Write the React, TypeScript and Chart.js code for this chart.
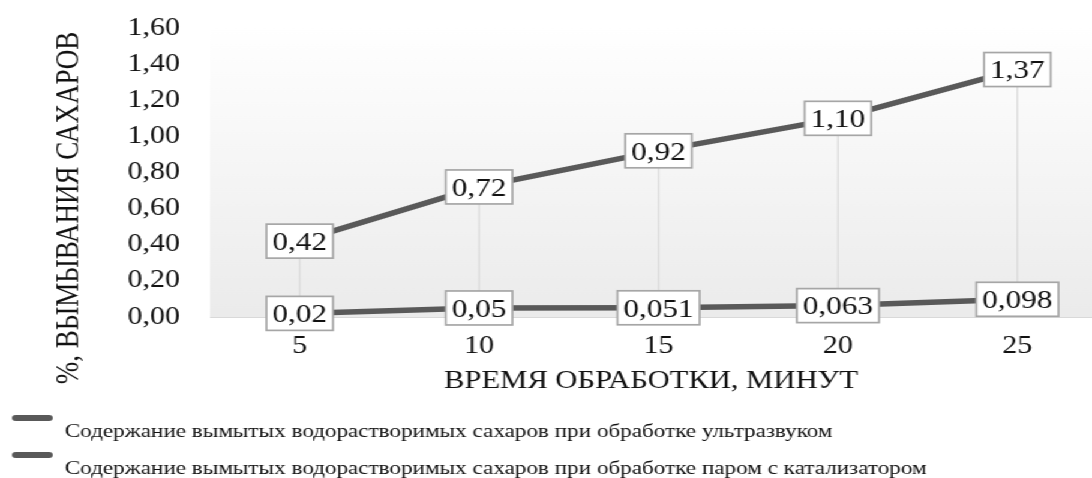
import React, { useEffect, useRef } from "react";
import { Chart, registerables } from "chart.js";

Chart.register(...registerables);

// ---- data ----
const minutes = [5, 10, 15, 20, 25];
const ultrasoundValues = [0.42, 0.72, 0.92, 1.1, 1.37];
const steamCatalystValues = [0.02, 0.05, 0.051, 0.063, 0.098];
const ultrasoundLabels = ["0,42", "0,72", "0,92", "1,10", "1,37"];
const steamCatalystLabels = ["0,02", "0,05", "0,051", "0,063", "0,098"];
const seriesNames = [
  "Содержание вымытых водорастворимых сахаров при обработке ультразвуком",
  "Содержание вымытых водорастворимых сахаров при обработке паром с катализатором",
];
const xAxisTitle = "ВРЕМЯ ОБРАБОТКИ, МИНУТ";
const yAxisTitle = "%, ВЫМЫВАНИЯ САХАРОВ";
const yMin = 0;
const yMax = 1.6;
const yStep = 0.2;
const xMin = 2.5;
const xMax = 27.08;

// ---- layout / style ----
const STRETCH = 1.2;
const W = Math.round(1092 / STRETCH);
const H = 478;
const FONT = '"Liberation Serif", "Times New Roman", serif';
const LINE_COLOR = "#595959";
const TEXT_COLOR = "#111111";

const plotBackground = {
  id: "plotBackground",
  beforeDraw(chart: any) {
    const { ctx, chartArea: a } = chart;
    const g = ctx.createLinearGradient(0, a.top, 0, a.bottom);
    g.addColorStop(0, "#ffffff");
    g.addColorStop(1, "#ebebeb");
    ctx.save();
    ctx.fillStyle = g;
    ctx.fillRect(a.left, a.top, a.right - a.left, a.bottom - a.top);
    ctx.restore();
  },
};

const highLowLines = {
  id: "highLowLines",
  beforeDatasetsDraw(chart: any) {
    const { ctx } = chart;
    const m0 = chart.getDatasetMeta(0);
    const m1 = chart.getDatasetMeta(1);
    ctx.save();
    ctx.strokeStyle = "#d9d9d9";
    ctx.lineWidth = 1.2;
    m0.data.forEach((p: any, i: number) => {
      const q = m1.data[i];
      if (!q) return;
      ctx.beginPath();
      ctx.moveTo(p.x, p.y);
      ctx.lineTo(q.x, q.y);
      ctx.stroke();
    });
    ctx.restore();
  },
};

const valueBoxes = {
  id: "valueBoxes",
  afterDatasetsDraw(chart: any) {
    const { ctx } = chart;
    ctx.save();
    ctx.font = `26px ${FONT}`;
    chart.data.datasets.forEach((ds: any, di: number) => {
      const meta = chart.getDatasetMeta(di);
      meta.data.forEach((pt: any, i: number) => {
        const text = ds.valueLabels[i];
        const w = ctx.measureText(text).width + 10;
        const h = 34;
        const x0 = pt.x - w / 2;
        const y0 = pt.y - h / 2;
        ctx.fillStyle = "#ffffff";
        ctx.fillRect(x0, y0, w, h);
        ctx.strokeStyle = "#a6a6a6";
        ctx.lineWidth = 1.7;
        ctx.strokeRect(x0, y0, w, h);
        ctx.fillStyle = TEXT_COLOR;
        ctx.textAlign = "center";
        ctx.textBaseline = "middle";
        ctx.fillText(text, pt.x, pt.y + 2);
      });
    });
    ctx.restore();
  },
};

const yTitlePlugin = {
  id: "yTitlePlugin",
  afterDraw(chart: any) {
    const { ctx, chartArea: a } = chart;
    ctx.save();
    ctx.translate(58, a.top + 180);
    ctx.rotate(-Math.PI / 2);
    ctx.font = `27px ${FONT}`;
    ctx.fillStyle = TEXT_COLOR;
    ctx.textAlign = "center";
    ctx.textBaseline = "middle";
    ctx.fillText(yAxisTitle, 0, 0);
    ctx.restore();
  },
};

const bottomLegend = {
  id: "bottomLegend",
  afterDraw(chart: any) {
    const { ctx } = chart;
    ctx.save();
    chart.data.datasets.forEach((ds: any, di: number) => {
      const markerY = chart.height - 60 + di * 37;
      ctx.strokeStyle = ds.borderColor;
      ctx.lineWidth = 6;
      ctx.lineCap = "round";
      ctx.beginPath();
      ctx.moveTo(13, markerY);
      ctx.lineTo(41, markerY);
      ctx.stroke();
      ctx.font = `19.3px ${FONT}`;
      ctx.fillStyle = TEXT_COLOR;
      ctx.textAlign = "left";
      ctx.textBaseline = "middle";
      ctx.fillText(ds.label, 54, markerY + 14);
    });
    ctx.restore();
  },
};

export default function App() {
  const ref = useRef<HTMLCanvasElement>(null);

  useEffect(() => {
    if (!ref.current) return;
    const chart = new Chart(ref.current, {
      type: "line",
      data: {
        datasets: [
          {
            label: seriesNames[0],
            data: minutes.map((m, i) => ({ x: m, y: ultrasoundValues[i] })),
            valueLabels: ultrasoundLabels,
            borderColor: LINE_COLOR,
            borderWidth: 5.5,
            pointRadius: 0,
            tension: 0,
          } as any,
          {
            label: seriesNames[1],
            data: minutes.map((m, i) => ({ x: m, y: steamCatalystValues[i] })),
            valueLabels: steamCatalystLabels,
            borderColor: LINE_COLOR,
            borderWidth: 5.5,
            pointRadius: 0,
            tension: 0,
          } as any,
        ],
      },
      options: {
        animation: false,
        responsive: false,
        devicePixelRatio: 1,
        layout: { padding: { top: 28, right: 0, bottom: 80, left: 0 } },
        plugins: {
          legend: { display: false },
          tooltip: { enabled: false },
          title: { display: false },
        },
        scales: {
          x: {
            type: "linear",
            min: xMin,
            max: xMax,
            afterBuildTicks: (s: any) => {
              s.ticks = minutes.map((v) => ({ value: v }));
            },
            afterFit: (s: any) => {
              s.height = 81;
              s.paddingLeft = 0;
              s.paddingRight = 0;
            },
            grid: { display: false, drawTicks: false },
            border: { display: true, color: "#d9d9d9", width: 1 },
            ticks: {
              color: TEXT_COLOR,
              font: { family: FONT, size: 25 },
              padding: 14,
              maxRotation: 0,
              autoSkip: false,
              callback: (v: any) => String(v),
            },
            title: {
              display: true,
              text: xAxisTitle,
              color: TEXT_COLOR,
              font: { family: FONT, size: 25.5 },
              padding: { top: 0, bottom: 1 },
            },
          },
          y: {
            type: "linear",
            min: yMin,
            max: yMax,
            afterFit: (s: any) => {
              s.width = 175;
              s.paddingTop = 0;
              s.paddingBottom = 0;
            },
            grid: { display: false, drawTicks: false },
            border: { display: false },
            ticks: {
              stepSize: yStep,
              color: TEXT_COLOR,
              font: { family: FONT, size: 25 },
              padding: 25,
              callback: (v: any) => Number(v).toFixed(2).replace(".", ","),
            },
          },
        },
      } as any,
      plugins: [plotBackground, highLowLines, valueBoxes, yTitlePlugin, bottomLegend],
    });
    return () => chart.destroy();
  }, []);

  return (
    <div
      style={{
        position: "fixed",
        left: 0,
        top: 0,
        width: W,
        height: H,
        transform: `scaleX(${STRETCH})`,
        transformOrigin: "0 0",
        background: "#ffffff",
      }}
    >
      <canvas ref={ref} width={W} height={H} style={{ display: "block", width: W, height: H }} />
    </div>
  );
}
